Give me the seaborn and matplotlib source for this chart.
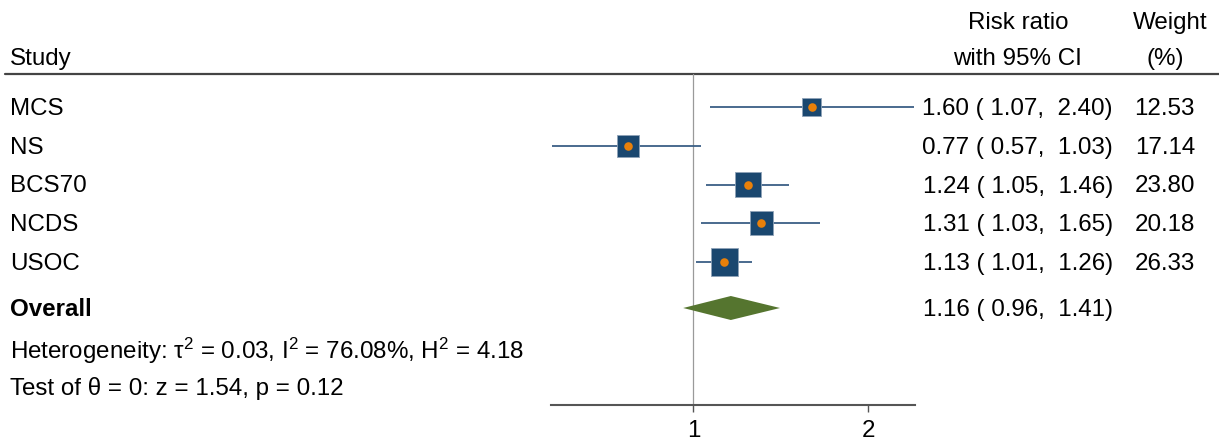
import numpy as np
import pandas as pd
import matplotlib
matplotlib.use('Agg')
import matplotlib.pyplot as plt
import seaborn as sns

studies = ['MCS', 'NS', 'BCS70', 'NCDS', 'USOC']
rr = [1.60, 0.77, 1.24, 1.31, 1.13]
ci_low = [1.07, 0.57, 1.05, 1.03, 1.01]
ci_high = [2.40, 1.03, 1.46, 1.65, 1.26]
weights = [12.53, 17.14, 23.80, 20.18, 26.33]
overall = [1.16, 0.96, 1.41]
x_ticks = [1, 2]
het_text = 'Heterogeneity: τ$^{2}$ = 0.03, I$^{2}$ = 76.08%, H$^{2}$ = 4.18'
test_text = 'Test of θ = 0: z = 1.54, p = 0.12'

sns.set_theme(style='white')
plt.rcParams['font.family'] = ['Liberation Sans', 'DejaVu Sans']
plt.rcParams['mathtext.fontset'] = 'custom'
plt.rcParams['mathtext.rm'] = 'Liberation Sans'
plt.rcParams['mathtext.it'] = 'Liberation Sans'
plt.rcParams['text.color'] = 'black'
plt.rcParams['xtick.color'] = 'black'

W, H = 1219, 443
fs = 17.4
navy = '#1a476f'
line_c = '#3b5f86'
orange = '#e8800a'
green = '#55752f'

df = pd.DataFrame({'study': studies, 'rr': rr, 'lo': ci_low, 'hi': ci_high, 'w': weights})
df['y'] = 107 + 38.75 * np.arange(len(df))
y_overall = 308
dy = 2  # text baseline nudge

fig = plt.figure(figsize=(W / 100, H / 100), dpi=100)
tax = fig.add_axes([0, 0, 1, 1])
tax.set_xlim(0, W)
tax.set_ylim(H, 0)
tax.axis('off')

ax = fig.add_axes([551 / W, 0, 364 / W, 1])
ax.set_xscale('log')
ax.set_xlim(0.568, 2.41)
ax.set_ylim(H, 0)
ax.patch.set_alpha(0)

# reference line at 1
ax.plot([1, 1], [74, 405], color='#9a9a9a', lw=0.9, zorder=1)

# CI lines
ax.hlines(df['y'], df['lo'], df['hi'], color=line_c, lw=1.3, zorder=2)

# weighted squares (area ~ weight)
k = 14.6
sns.scatterplot(data=df, x='rr', y='y', size='w', sizes=(k * df['w'].min(), k * df['w'].max()),
                marker='s', color=navy, edgecolor='#8fa3b8', linewidth=0.6, legend=False, ax=ax, zorder=3)
sns.scatterplot(data=df, x='rr', y='y', s=38, color=orange, linewidth=0, legend=False, ax=ax, zorder=4)

# overall diamond
est, lo, hi = overall
ax.fill([lo, est, hi, est], [y_overall, y_overall - 12, y_overall, y_overall + 12],
        color=green, zorder=3, lw=0)

# x axis drawn at the bottom of the panel
for s in ['top', 'right', 'left']:
    ax.spines[s].set_visible(False)
ax.spines['bottom'].set_position(('data', 405))
ax.spines['bottom'].set_color('#555555')
ax.spines['bottom'].set_linewidth(1.5)
ax.set_xticks(x_ticks)
ax.set_xticklabels([str(t) for t in x_ticks])
ax.xaxis.set_minor_locator(matplotlib.ticker.NullLocator())
ax.tick_params(axis='x', bottom=True, length=5, width=1, color='#555555', labelsize=fs, pad=6)
ax.set_yticks([])
ax.set_xlabel('')
ax.set_ylabel('')

# header
tax.plot([5, W], [74, 74], color='#444444', lw=1.6)
tax.text(10, 57 + dy, 'Study', fontsize=fs, va='center')
tax.text(1018, 21 + dy, 'Risk ratio', fontsize=fs, va='center', ha='center')
tax.text(1017, 57 + dy, 'with 95% CI', fontsize=fs, va='center', ha='center')
tax.text(1170, 21 + dy, 'Weight', fontsize=fs, va='center', ha='center')
tax.text(1165, 57 + dy, '(%)', fontsize=fs, va='center', ha='center')

# rows
for _, r in df.iterrows():
    y = r['y'] + dy
    tax.text(10, y, r['study'], fontsize=fs, va='center')
    tax.text(1113, y, f"{r['rr']:.2f} ( {r['lo']:.2f},  {r['hi']:.2f})", fontsize=fs, va='center', ha='right')
    tax.text(1195, y, f"{r['w']:.2f}", fontsize=fs, va='center', ha='right')

tax.text(10, y_overall + dy, 'Overall', fontsize=fs, va='center', fontweight='bold')
tax.text(1113, y_overall + dy, f"{est:.2f} ( {lo:.2f},  {hi:.2f})", fontsize=fs, va='center', ha='right')
tax.text(10, 349 + dy, het_text, fontsize=fs, va='center')
tax.text(10, 386 + dy, test_text, fontsize=fs, va='center')

fig.savefig('out.png', dpi=100)
